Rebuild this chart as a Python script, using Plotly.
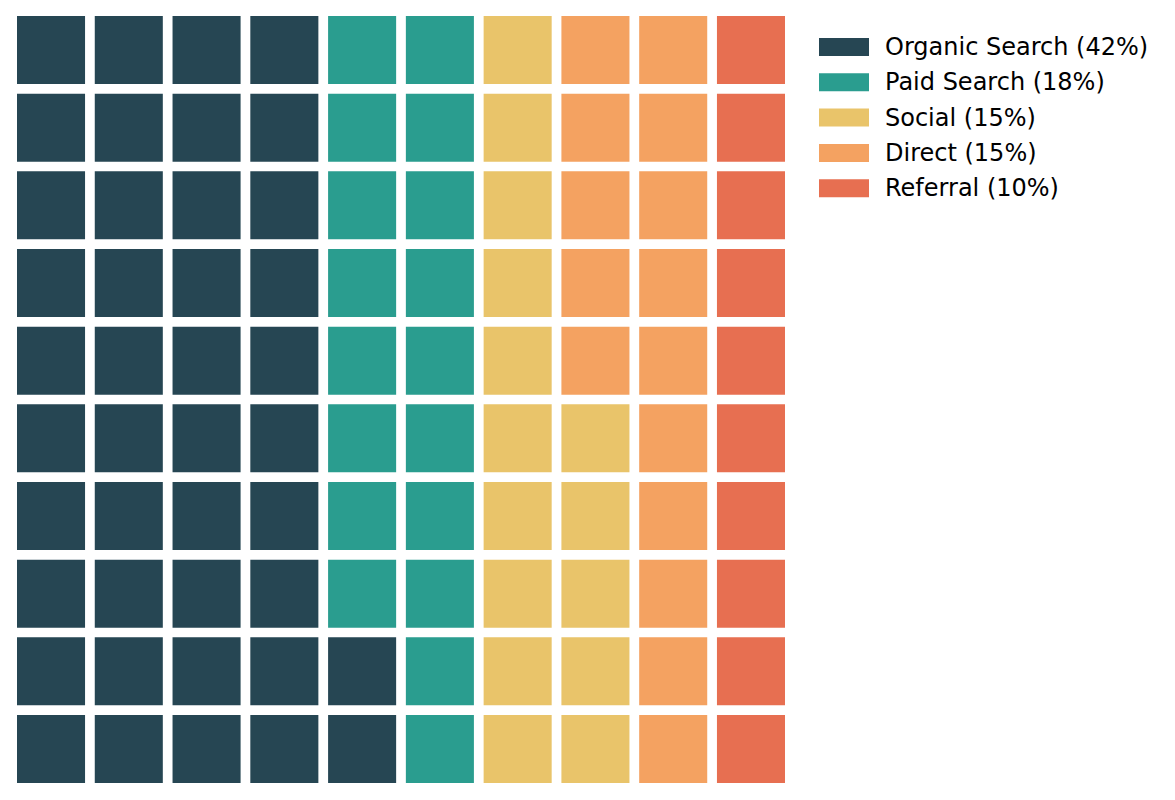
import plotly.graph_objects as go

categories = ["Organic Search", "Paid Search", "Social", "Direct", "Referral"]
values = [42, 18, 15, 15, 10]
colors = ["#264653", "#2a9d8f", "#e9c46a", "#f4a261", "#e76f51"]

n_rows = 10
cell = 0.875  # square size relative to grid pitch

W, H = 1175, 800
off = 8  # page body margin
ml, mr, mt, mb = 17 - off, 390 + off, 16 - off, 17 + off
pw, ph = W - ml - mr, H - mt - mb


def px_x(x):
    return (x - off - ml) / pw


def px_y(y):
    return 1 - (y - off - mt) / ph


fig = go.Figure()

# fill the grid column by column, bottom to top
k = 0
for name, val, col in zip(categories, values, colors):
    xs, bases = [], []
    for i in range(val):
        xs.append((k + i) // n_rows)
        bases.append((k + i) % n_rows - cell / 2)
    k += val
    fig.add_trace(go.Bar(x=xs, y=[cell] * val, base=bases, width=cell,
                         marker=dict(color=col, line=dict(width=0)),
                         name=f"{name} ({val}%)", showlegend=False,
                         hoverinfo="name"))

# legend drawn like a matplotlib legend (wide patches)
for i, (name, val, col) in enumerate(zip(categories, values, colors)):
    yc = 47 + i * 35.3
    fig.add_shape(type="rect", xref="paper", yref="paper",
                  x0=px_x(819), x1=px_x(869), y0=px_y(yc - 9), y1=px_y(yc + 9),
                  fillcolor=col, line=dict(width=0))
    fig.add_annotation(xref="paper", yref="paper", x=px_x(883), y=px_y(yc),
                       text=f"{name} ({val}%)", showarrow=False,
                       xanchor="left", yanchor="middle",
                       font=dict(family="DejaVu Sans", size=24, color="black"))

fig.update_layout(
    width=W, height=H,
    margin=dict(l=ml, r=mr, t=mt, b=mb),
    barmode="overlay",
    plot_bgcolor="white", paper_bgcolor="white",
    xaxis=dict(range=[-cell / 2, 9 + cell / 2], visible=False, fixedrange=True),
    yaxis=dict(range=[-cell / 2, n_rows - 1 + cell / 2], visible=False, fixedrange=True),
)

fig.write_html("out.html")
